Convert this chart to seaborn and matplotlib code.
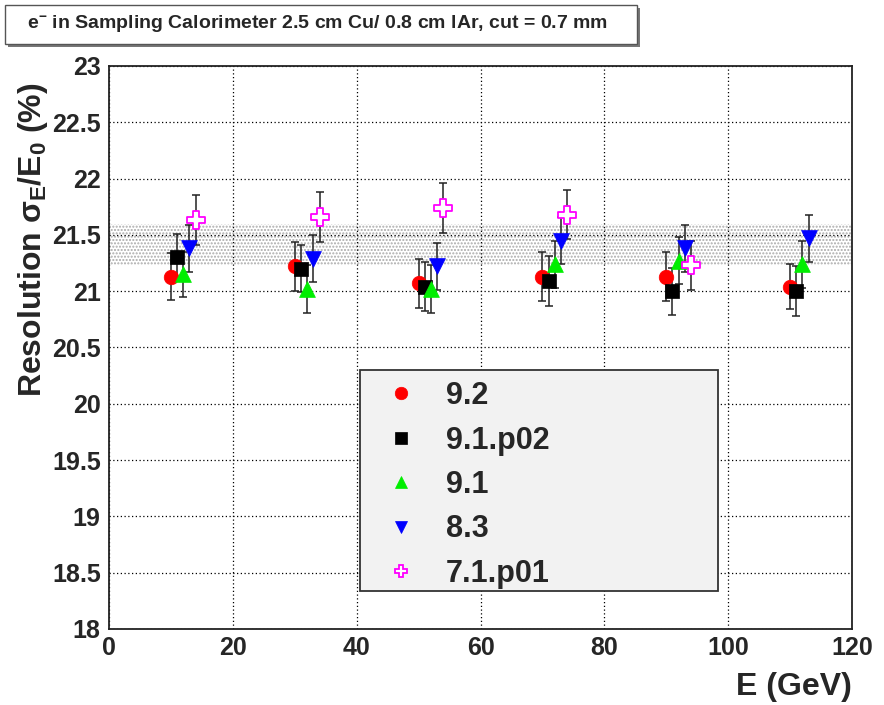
import numpy as np
import pandas as pd
import matplotlib
matplotlib.use("Agg")
import matplotlib.pyplot as plt
import seaborn as sns
from matplotlib.lines import Line2D
from matplotlib.patches import Rectangle

# beam energies (GeV)
energy = [10, 30, 50, 70, 90, 110]

# resolution values (%) and their errors, one list per Geant4 version
res_92 = [21.13, 21.22, 21.07, 21.13, 21.13, 21.04]
err_92 = [0.21, 0.22, 0.22, 0.22, 0.22, 0.20]
res_91p02 = [21.30, 21.20, 21.04, 21.09, 21.00, 21.00]
err_91p02 = [0.21, 0.21, 0.22, 0.22, 0.21, 0.22]
res_91 = [21.15, 21.02, 21.02, 21.24, 21.27, 21.24]
err_91 = [0.20, 0.21, 0.21, 0.21, 0.21, 0.21]
res_83 = [21.38, 21.29, 21.22, 21.45, 21.38, 21.47]
err_83 = [0.21, 0.21, 0.21, 0.21, 0.21, 0.21]
res_71p01 = [21.63, 21.66, 21.74, 21.68, 21.23]
err_71p01 = [0.22, 0.22, 0.22, 0.22, 0.22]

labels = ["9.2", "9.1.p02", "9.1", "8.3", "7.1.p01"]
band_lo, band_hi = 21.235, 21.60

sns.set_style("white")
plt.rcParams['font.family'] = ['Liberation Sans', 'DejaVu Sans']
plt.rcParams['font.weight'] = 'bold'
plt.rcParams['mathtext.fontset'] = 'custom'
plt.rcParams['mathtext.rm'] = 'Liberation Sans:bold'
plt.rcParams['mathtext.it'] = 'Liberation Sans:bold'
plt.rcParams['mathtext.bf'] = 'Liberation Sans:bold'
plt.rcParams['hatch.linewidth'] = 1.0

series = [
    (res_92, err_92, energy, 0, dict(marker='o', color='red', face='red', s=110, lw=0.5)),
    (res_91p02, err_91p02, energy, 1, dict(marker='s', color='black', face='black', s=110, lw=0.5)),
    (res_91, err_91, energy, 2, dict(marker='^', color='#00ee00', face='#00ee00', s=130, lw=0.5)),
    (res_83, err_83, energy, 3, dict(marker='v', color='blue', face='blue', s=130, lw=0.5)),
    (res_71p01, err_71p01, energy[:5], 4, dict(marker='P', color='magenta', face='white', s=160, lw=1.3)),
]

fig = plt.figure(figsize=(8.84, 7.05), dpi=100)
ax = fig.add_axes([109 / 884, (705 - 629) / 705, 743 / 884, 563 / 705])

ax.axhspan(band_lo, band_hi, facecolor='none', edgecolor='#aaaaaa', hatch='.....', lw=0, zorder=0)

for vals, errs, xs, off, st in series:
    df = pd.DataFrame({"E": np.array(xs) + off, "res": vals, "err": errs})
    ax.errorbar(df["E"], df["res"], yerr=df["err"], fmt='none', ecolor='#222222',
                elinewidth=1.1, capsize=3, capthick=1.1, zorder=2)
    sns.scatterplot(data=df, x="E", y="res", ax=ax, marker=st['marker'], s=st['s'],
                    color=st['face'], edgecolor=st['color'], linewidth=st['lw'],
                    zorder=3, legend=False)

ax.set_xlim(0, 120)
ax.set_ylim(18, 23)
ax.set_xticks(np.arange(0, 121, 20))
ax.set_xticks(np.arange(0, 121, 5), minor=True)
ax.set_yticks(np.arange(18, 23.01, 0.5))
ax.set_yticklabels(["18", "18.5", "19", "19.5", "20", "20.5", "21", "21.5", "22", "22.5", "23"])
ax.grid(True, which='major', linestyle=(0, (1, 2)), color='black', linewidth=0.9)
ax.tick_params(axis='y', which='major', direction='in', length=22, width=1.2, pad=6, labelsize=18)
ax.tick_params(axis='x', which='major', direction='in', length=20, width=1.2, pad=5, labelsize=18)
ax.tick_params(axis='x', which='minor', direction='in', length=10, width=1.2)
for lab in ax.get_xticklabels() + ax.get_yticklabels():
    lab.set_fontweight('bold')
for sp in ax.spines.values():
    sp.set_linewidth(1.3)
    sp.set_color('#222222')

ax.set_xlabel("E (GeV)", fontsize=23, fontweight='bold', loc='right', labelpad=9)
ax.set_ylabel(r"Resolution $\sigma_E/E_0$ (%)", fontsize=23, fontweight='bold')
ax.yaxis.set_label_coords(-0.079, 0.691)

# legend box (ROOT TLegend look)
ax.add_patch(Rectangle((0.338, 0.0675), 0.481, 0.3925, transform=ax.transAxes,
                       facecolor='#f2f2f2', edgecolor='#333333', linewidth=1.3, zorder=4))
handles = [Line2D([], [], linestyle='none', marker=st['marker'], markersize=9,
                  markerfacecolor=st['face'], markeredgecolor=st['color'],
                  markeredgewidth=st['lw'] if st['lw'] > 1 else 0.5)
           for *_, st in series]
leg = ax.legend(handles, labels, loc='upper left', bbox_to_anchor=(0.338, 0.4565),
                prop={'size': 22, 'weight': 'bold'}, frameon=False,
                labelspacing=0.47, handletextpad=0.4, borderpad=0.0, borderaxespad=0.3, handlelength=2.1)
leg.set_zorder(5)

# title box with ROOT-style shadow
fig.patches.append(Rectangle((8 / 884, (705 - 47) / 705), 632 / 884, 39 / 705, transform=fig.transFigure,
                             facecolor='#777777', edgecolor='none'))
fig.patches.append(Rectangle((5 / 884, (705 - 44) / 705), 632 / 884, 39 / 705, transform=fig.transFigure,
                             facecolor='white', edgecolor='#555555', linewidth=1))
fig.text(318 / 884, (705 - 24) / 705, r"e$^{-}$ in Sampling Calorimeter 2.5 cm Cu/ 0.8 cm lAr, cut = 0.7 mm",
         ha='center', va='center', fontsize=14, fontweight='bold')

fig.savefig("out.png", dpi=100)
